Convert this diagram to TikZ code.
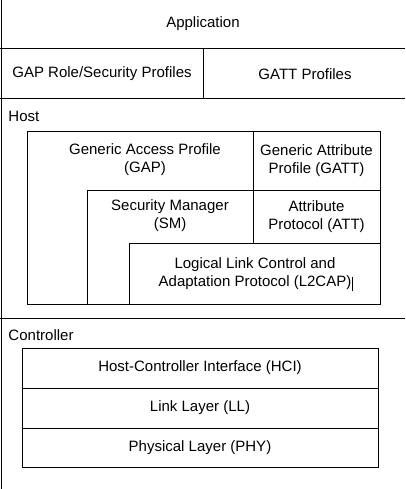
\documentclass[tikz,border=0pt]{standalone}
\usepackage{fontspec}
\setmainfont{Liberation Sans}
\begin{document}
\begin{tikzpicture}[x=1pt,y=-1pt,line width=1pt,
  lbl/.style={font=\fontsize{15}{18}\selectfont,align=center,inner sep=0pt},
  sec/.style={font=\fontsize{15}{18}\selectfont,anchor=west,inner sep=0pt},
  layer/.style={draw,anchor=north west,inner sep=0pt,outer sep=0pt}]
\useasboundingbox (0,0) rectangle (405,489);
% outer frame lines
\coordinate (tl) at (1,0);
\coordinate (bl) at (1,489);
\draw (tl) -- (bl);
\coordinate (a1) at (0,49);  \coordinate (a2) at (405,49);
\coordinate (b1) at (0,99);  \coordinate (b2) at (405,99);
\coordinate (c1) at (0,318); \coordinate (c2) at (405,318);
\coordinate (d1) at (203,49); \coordinate (d2) at (203,99);
\draw (a1) -- (a2);
\draw (b1) -- (b2);
\draw (c1) -- (c2);
\draw (d1) -- (d2);
% top texts
\node[lbl] (app) at (203,24) {Application};
\node[lbl] (gaprole) at (102,74) {GAP Role/Security Profiles};
\node[lbl] (gattprof) at (305,74) {GATT Profiles};
% host
\node[sec] (host) at (8,116) {Host};
\node[layer,minimum width=127pt,minimum height=58pt] (gatt) at (253,132) {};
\node[layer,minimum width=127pt,minimum height=53pt] (att) at (253,190) {};
\node[layer,minimum width=251pt,minimum height=61pt] (l2cap) at (129,243) {};
\coordinate (gap1) at (27,132);
\coordinate (gap2) at (27,304);
\coordinate (sm1) at (87,190);
\coordinate (sm2) at (87,304);
\draw (gatt.north west) -- (gap1) -- (gap2) -- (l2cap.south west);
\draw (att.north west) -- (sm1) -- (sm2);
\node[lbl] (gapt) at (145,160) {Generic Access Profile\\(GAP)};
\node[lbl] at (gatt.center) {Generic Attribute\\Profile (GATT)};
\node[lbl] (smt) at (170,216) {Security Manager\\(SM)};
\node[lbl] at (att.center) {Attribute\\Protocol (ATT)};
\node[lbl] (l2t) at (255,274) {Logical Link Control and\\Adaptation Protocol (L2CAP)};
\coordinate (cur1) at (352,277);
\coordinate (cur2) at (352,291);
\draw (cur1) -- (cur2);
% controller
\node[sec] (ctrl) at (8,335) {Controller};
\node[layer,minimum width=356pt,minimum height=40pt] (hci) at (22,348) {};
\node[layer,minimum width=356pt,minimum height=40pt] (ll) at (22,388) {};
\node[layer,minimum width=356pt,minimum height=39pt] (phy) at (22,428) {};
\node[lbl] at (hci.center) {Host-Controller Interface (HCI)};
\node[lbl] at (ll.center) {Link Layer (LL)};
\node[lbl] at (phy.center) {Physical Layer (PHY)};
\end{tikzpicture}
\end{document}
